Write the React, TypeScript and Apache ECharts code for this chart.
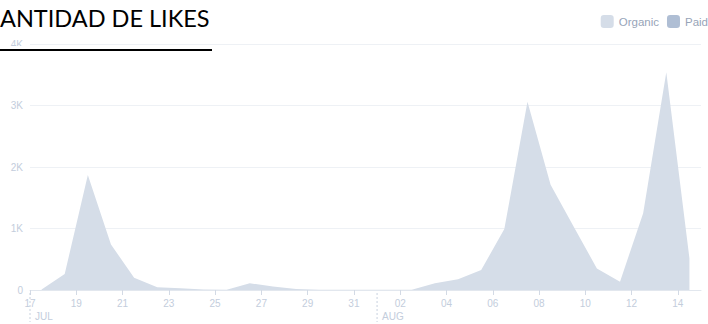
import React, { useEffect, useRef } from "react";
import * as echarts from "echarts";

const dayLabels = [
  "17", "18", "19", "20", "21", "22", "23", "24", "25", "26", "27", "28", "29", "30", "31",
  "01", "02", "03", "04", "05", "06", "07", "08", "09", "10", "11", "12", "13", "14",
];
const organic = [
  10, 260, 1870, 740, 200, 45, 30, 10, 5, 110, 55, 15, 5, 5, 5,
  5, 5, 110, 175, 325, 990, 3060, 1710, 1030, 350, 135, 1250, 3540, 515,
];
const paid = [
  0, 0, 0, 0, 0, 0, 0, 0, 0, 0, 0, 0, 0, 0, 0,
  0, 0, 0, 0, 0, 0, 0, 0, 0, 0, 0, 0, 0, 0,
];
const monthNames = ["JUL", "AUG"];
const monthStarts = [0, 15];
const yTickLabels = ["0", "1K", "2K", "3K", "4K"];
const titleText = "ANTIDAD DE LIKES";

const labelColor = "#c3cddc";
const organicColor = "#d5dde8";
const paidColor = "#afbed4";

export default function App() {
  const ref = useRef<HTMLDivElement>(null);
  useEffect(() => {
    if (!ref.current) return;
    const chart = echarts.init(ref.current, undefined, { renderer: "svg" });
    const dayCount = dayLabels.length;
    chart.setOption({
      animation: false,
      backgroundColor: "#ffffff",
      grid: { left: 30, right: 7, top: 44, bottom: 34, containLabel: false },
      legend: {
        right: -5,
        top: 10,
        itemWidth: 13,
        itemHeight: 13,
        itemGap: 8,
        icon: "roundRect",
        textStyle: { color: "#97a4b8", fontSize: 11.5, fontFamily: "Liberation Sans" },
        data: [
          { name: "Organic", itemStyle: { color: organicColor } },
          { name: "Paid", itemStyle: { color: paidColor } },
        ],
      },
      xAxis: {
        type: "value",
        min: 0,
        max: dayCount,
        interval: 2,
        axisLine: { show: true, lineStyle: { color: "#e2e7ee", width: 1 } },
        axisTick: { show: true, length: 5, lineStyle: { color: "#d3dae5" } },
        splitLine: { show: false },
        axisLabel: {
          color: labelColor,
          fontSize: 10,
          fontFamily: "Liberation Sans",
          margin: 8,
          showMaxLabel: false,
          formatter: (v: number) => (v % 2 === 0 && v < dayCount ? dayLabels[v] : ""),
        },
      },
      yAxis: {
        type: "value",
        min: 0,
        max: 4000,
        interval: 1000,
        axisLine: { show: false },
        axisTick: { show: false },
        splitLine: { show: true, lineStyle: { color: "#eef1f5", width: 1 } },
        axisLabel: {
          color: labelColor,
          fontSize: 10,
          fontFamily: "Liberation Sans",
          margin: 7,
          formatter: (v: number) => yTickLabels[Math.round(v / 1000)] ?? "",
        },
      },
      series: [
        {
          name: "Organic",
          type: "line",
          symbol: "none",
          color: organicColor,
          lineStyle: { width: 0, opacity: 0, color: organicColor },
          areaStyle: { color: organicColor, opacity: 1 },
          data: organic.map((v, i) => [i + 0.5, v]),
          z: 2,
        },
        {
          name: "Paid",
          type: "line",
          symbol: "none",
          color: paidColor,
          lineStyle: { width: 0, opacity: 0, color: paidColor },
          data: paid.map((v, i) => [i + 0.5, v]),
          z: 1,
        },
      ],
    });

    const axisY = chart.convertToPixel({ yAxisIndex: 0 }, 0) as number;
    const graphics: any[] = [
      {
        type: "rect",
        shape: { x: 0, y: 46, width: 213, height: 4 },
        style: { fill: "#ffffff" },
        z: 100,
      },
      {
        type: "rect",
        shape: { x: 0, y: 49, width: 212, height: 2 },
        style: { fill: "#000000" },
        z: 101,
      },
      {
        type: "text",
        x: 0,
        y: 17.5,
        style: {
          text: titleText,
          fill: "#000000",
          font: "23.5px Lato",
          verticalAlign: "middle",
          align: "left",
        },
        z: 101,
      },
    ];
    monthStarts.forEach((d, k) => {
      const px = chart.convertToPixel({ xAxisIndex: 0 }, d) as number;
      graphics.push({
        type: "line",
        shape: { x1: px, y1: axisY + 3, x2: px, y2: axisY + 32 },
        style: { stroke: "#c9d2df", lineWidth: 1, lineDash: [2, 2] },
        z: 50,
      });
      graphics.push({
        type: "text",
        x: px + 5,
        y: axisY + 26.5,
        style: {
          text: monthNames[k],
          fill: labelColor,
          font: "10px Liberation Sans",
          verticalAlign: "middle",
          align: "left",
        },
        z: 50,
      });
    });
    chart.setOption({ graphic: graphics });

    return () => chart.dispose();
  }, []);
  return (
    <div
      ref={ref}
      style={{ position: "fixed", left: 0, top: 0, width: 708, height: 324 }}
    />
  );
}
